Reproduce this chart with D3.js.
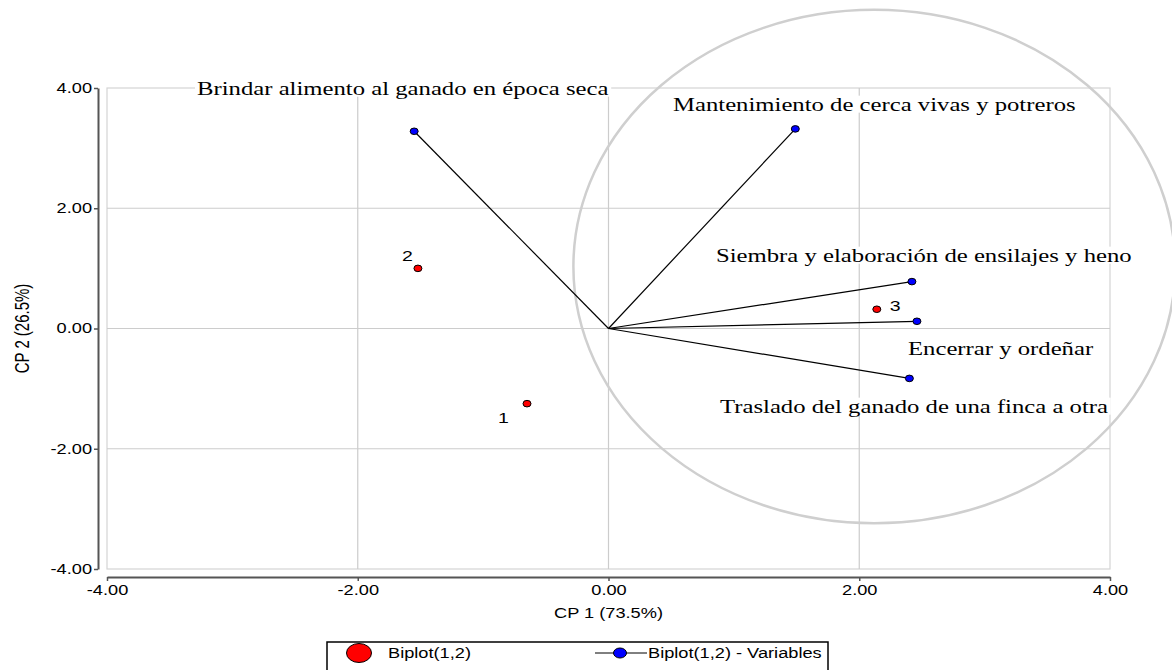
<!DOCTYPE html>
<html>
<head>
<meta charset="utf-8">
<script src="https://cdn.jsdelivr.net/npm/d3@7"></script>
<style>
  body { margin: 0; background: #fff; }
  svg { display: block; }
</style>
</head>
<body>
<svg id="chart" width="1172" height="670"></svg>
<script>
// biplot CP1 x CP2

// observations (red)
var obsLabels = ["1", "2", "3"];
var obsX = [-0.65, -1.52, 2.14];
var obsY = [-1.25, 1.00, 0.32];

// variables (blue vectors from origin)
var varNames = [
  "Brindar alimento al ganado en época seca",
  "Mantenimiento de cerca vivas y potreros",
  "Siembra y elaboración de ensilajes y heno",
  "Encerrar y ordeñar",
  "Traslado del ganado de una finca a otra"
];
var varX = [-1.55, 1.49, 2.42, 2.46, 2.40];
var varY = [3.28, 3.32, 0.78, 0.12, -0.83];

var tickValues = [-4, -2, 0, 2, 4];
var xTitle = "CP 1 (73.5%)";
var yTitle = "CP 2 (26.5%)";
var legendNames = ["Biplot(1,2)", "Biplot(1,2) - Variables"];

(function() {
  var svg = d3.select("#chart");
  var pl = 107, pr = 1110, pt = 88, pb = 569;
  var K = 1.3;  // the original output is stretched sideways

  var x = d3.scaleLinear().domain([-4, 4]).range([pl, pr]);
  var y = d3.scaleLinear().domain([-4, 4]).range([pb, pt]);
  var fmt = function(d) { return d.toFixed(2); };
  var sans = "Liberation Sans, Arial, sans-serif";
  var serif = "Liberation Serif, Times New Roman, serif";

  function stretch(sel) {
    sel.each(function() {
      var len = this.getComputedTextLength();
      d3.select(this).attr("textLength", len * K).attr("lengthAdjust", "spacingAndGlyphs");
    });
  }

  // frame + grid
  svg.append("rect")
    .attr("x", pl).attr("y", pt)
    .attr("width", pr - pl).attr("height", pb - pt)
    .attr("fill", "none").attr("stroke", "#d4d4d4").attr("stroke-width", 1.2);

  var grid = svg.append("g").attr("stroke", "#cccccc").attr("stroke-width", 1.2);
  grid.selectAll("line.v").data([-2, 0, 2]).enter().append("line").attr("class", "v")
    .attr("x1", function(d) { return x(d); }).attr("x2", function(d) { return x(d); })
    .attr("y1", pt).attr("y2", pb);
  grid.selectAll("line.h").data([-2, 0, 2]).enter().append("line").attr("class", "h")
    .attr("y1", function(d) { return y(d); }).attr("y2", function(d) { return y(d); })
    .attr("x1", pl).attr("x2", pr);

  // axes, offset from the frame
  var xAxis = svg.append("g")
    .attr("transform", "translate(0," + (pb + 8) + ")")
    .call(d3.axisBottom(x).tickValues(tickValues).tickFormat(fmt).tickSizeInner(4).tickSizeOuter(0).tickPadding(4));
  var yAxis = svg.append("g")
    .attr("transform", "translate(" + (pl - 9) + ",0)")
    .call(d3.axisLeft(y).tickValues(tickValues).tickFormat(fmt).tickSizeInner(4).tickSizeOuter(0).tickPadding(2));

  [xAxis, yAxis].forEach(function(a) {
    a.select(".domain").attr("stroke", "#555").attr("stroke-width", 2);
    a.selectAll(".tick line").attr("stroke", "#555").attr("stroke-width", 1.5);
    a.selectAll(".tick text").attr("fill", "#000")
      .style("font-family", sans).style("font-size", "14px")
      .call(stretch);
  });

  svg.append("text")
    .attr("x", x(0)).attr("y", 618)
    .attr("text-anchor", "middle")
    .style("font-family", sans).style("font-size", "14px")
    .text(xTitle)
    .call(stretch);
  svg.append("text")
    .attr("transform", "translate(22," + y(0) + ") rotate(-90) scale(1," + K + ")")
    .attr("text-anchor", "middle")
    .attr("dy", "0.35em")
    .style("font-family", sans).style("font-size", "15px")
    .text(yTitle);

  // highlight ellipse round the right-hand group
  svg.append("ellipse")
    .attr("cx", x(2.12)).attr("cy", y(1.03))
    .attr("rx", x(2.4) - x(0)).attr("ry", y(0) - y(4.27))
    .attr("fill", "none").attr("stroke", "#cfcfcf").attr("stroke-width", 2.5);

  // vectors
  var vars = varNames.map(function(n, i) { return { name: n, x: varX[i], y: varY[i] }; });
  svg.append("g").selectAll("line").data(vars).enter().append("line")
    .attr("x1", x(0)).attr("y1", y(0))
    .attr("x2", function(d) { return x(d.x); })
    .attr("y2", function(d) { return y(d.y); })
    .attr("stroke", "#000").attr("stroke-width", 1.2);

  // observations
  var obs = obsLabels.map(function(l, i) { return { label: l, x: obsX[i], y: obsY[i] }; });
  svg.append("g").selectAll("ellipse").data(obs).enter().append("ellipse")
    .attr("cx", function(d) { return x(d.x); })
    .attr("cy", function(d) { return y(d.y); })
    .attr("rx", 4).attr("ry", 3.3)
    .attr("fill", "#ff0000").attr("stroke", "#000").attr("stroke-width", 1);

  var obsOff = [[-29, 14], [-16, -13], [13, -4]];
  svg.append("g").selectAll("text").data(obs).enter().append("text")
    .attr("x", function(d, i) { return x(d.x) + obsOff[i][0]; })
    .attr("y", function(d, i) { return y(d.y) + obsOff[i][1]; })
    .attr("dy", "0.35em")
    .style("font-family", sans).style("font-size", "15px")
    .text(function(d) { return d.label; })
    .call(stretch);

  svg.append("g").selectAll("ellipse").data(vars).enter().append("ellipse")
    .attr("cx", function(d) { return x(d.x); })
    .attr("cy", function(d) { return y(d.y); })
    .attr("rx", 4).attr("ry", 3.3)
    .attr("fill", "#0000ff").attr("stroke", "#000").attr("stroke-width", 1);

  // variable labels (white boxed, serif)
  var labelPos = [[197, 88], [673, 104], [716, 255], [908, 348], [720, 406]];
  var lab = svg.append("g").selectAll("g").data(vars).enter().append("g")
    .attr("transform", function(d, i) { return "translate(" + labelPos[i][0] + "," + labelPos[i][1] + ")"; });
  lab.append("text")
    .attr("dy", "0.35em")
    .style("font-family", serif).style("font-size", "19px")
    .text(function(d) { return d.name; })
    .call(stretch);
  lab.each(function() {
    var g = d3.select(this), bb = g.select("text").node().getBBox();
    g.insert("rect", "text")
      .attr("x", bb.x - 2).attr("y", bb.y + 2)
      .attr("width", bb.width + 4).attr("height", bb.height - 4)
      .attr("fill", "#fff");
  });

  // legend
  var lg = svg.append("g");
  lg.append("rect").attr("x", 327).attr("y", 642).attr("width", 501).attr("height", 40)
    .attr("fill", "#fff").attr("stroke", "#000").attr("stroke-width", 1.5);
  lg.append("ellipse").attr("cx", 359).attr("cy", 653).attr("rx", 12.5).attr("ry", 9.5)
    .attr("fill", "#ff0000").attr("stroke", "#000").attr("stroke-width", 1);
  lg.append("line").attr("x1", 595).attr("x2", 647).attr("y1", 653).attr("y2", 653)
    .attr("stroke", "#000").attr("stroke-width", 1);
  lg.append("ellipse").attr("cx", 620).attr("cy", 653).attr("rx", 6.5).attr("ry", 5)
    .attr("fill", "#0000ff").attr("stroke", "#000").attr("stroke-width", 1);
  lg.selectAll("text").data(legendNames).enter().append("text")
    .attr("x", function(d, i) { return i === 0 ? 388 : 648; })
    .attr("y", 653).attr("dy", "0.35em")
    .style("font-family", sans).style("font-size", "14px")
    .text(function(d) { return d; })
    .call(stretch);
})();
</script>
</body>
</html>
